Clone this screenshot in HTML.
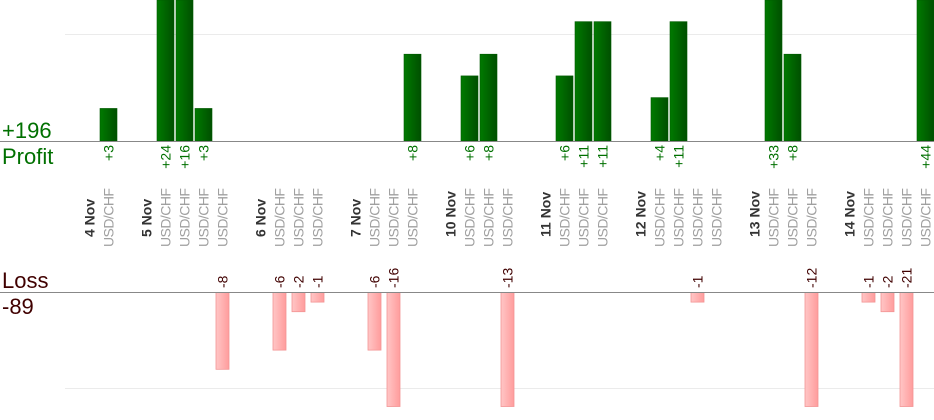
<!DOCTYPE html>
<html><head><meta charset="utf-8"><style>
html,body{margin:0;padding:0;background:#fff;}
svg{display:block;font-family:"Liberation Sans",sans-serif;}
</style></head><body>
<svg width="934" height="420" viewBox="0 0 934 420">
<defs>
<linearGradient id="g" x1="0" x2="1" y1="0" y2="0"><stop offset="0" stop-color="#007a00"/><stop offset="1" stop-color="#004f00"/></linearGradient>
<linearGradient id="r" x1="0" x2="1" y1="0" y2="0"><stop offset="0" stop-color="#ffc6c6"/><stop offset="1" stop-color="#ff9c9c"/></linearGradient>
</defs>
<line x1="65" y1="34.5" x2="934" y2="34.5" stroke="#ebebeb"/>
<line x1="65" y1="388.5" x2="934" y2="388.5" stroke="#ebebeb"/>
<g id="bars"></g>
<line x1="0" y1="141.5" x2="934" y2="141.5" stroke="#888"/>
<line x1="0" y1="292.5" x2="934" y2="292.5" stroke="#888"/>
<text x="2" y="138" font-size="22" fill="#007000">+196</text>
<text x="2" y="164" font-size="22" fill="#007000">Profit</text>
<text x="2" y="288" font-size="22" fill="#400000">Loss</text>
<text x="2" y="314" font-size="22" fill="#400000">-89</text>
<g id="lab"></g>
</svg>
<script>
var dates=[[89,"4 Nov"],[146,"5 Nov"],[260,"6 Nov"],[355,"7 Nov"],[450,"10 Nov"],[545,"11 Nov"],[640,"12 Nov"],[754,"13 Nov"],[849,"14 Nov"]];
var tr=[[108,3],[165,24],[184,16],[203,3],[222,-8],[279,-6],[298,-2],[317,-1],[374,-6],[393,-16],[412,8],[469,6],[488,8],[507,-13],[564,6],[583,11],[602,11],[659,4],[678,11],[697,-1],[716,0],[773,33],[792,8],[811,-12],[868,-1],[887,-2],[906,-21],[925,44]];
var s="",b="";
dates.forEach(function(d){var x=d[0]+5.5;s+='<text transform="translate('+x+',237) rotate(-90)" font-size="14" font-weight="bold" fill="#333">'+d[1]+'</text>';});
tr.forEach(function(t){var c=t[0]+0.5,v=t[1];
s+='<text transform="translate('+(c+5)+',247) rotate(-90)" font-size="14" textLength="59" lengthAdjust="spacing" fill="#a0a0a0">USD/CHF</text>';
if(v>0){var h=Math.min(v*10.85,141);b+='<rect x="'+(c-8.5)+'" y="'+(141-h)+'" width="17" height="'+h+'" fill="url(#g)" stroke="#005a00" stroke-width="0.6"/>';
s+='<text transform="translate('+(c+5)+',145) rotate(-90)" text-anchor="end" font-size="14" fill="#007000">+'+v+'</text>';}
else if(v<0){var h2=Math.min(-v*9.6,114);b+='<rect x="'+(c-6.5)+'" y="292.5" width="13" height="'+h2+'" fill="url(#r)" stroke="#f39494" stroke-width="0.8"/>';
s+='<text transform="translate('+(c+5)+',288) rotate(-90)" font-size="14" fill="#400000">'+v+'</text>';}
});
document.getElementById("lab").innerHTML=s;document.getElementById("bars").innerHTML=b;
</script>
</body></html>
